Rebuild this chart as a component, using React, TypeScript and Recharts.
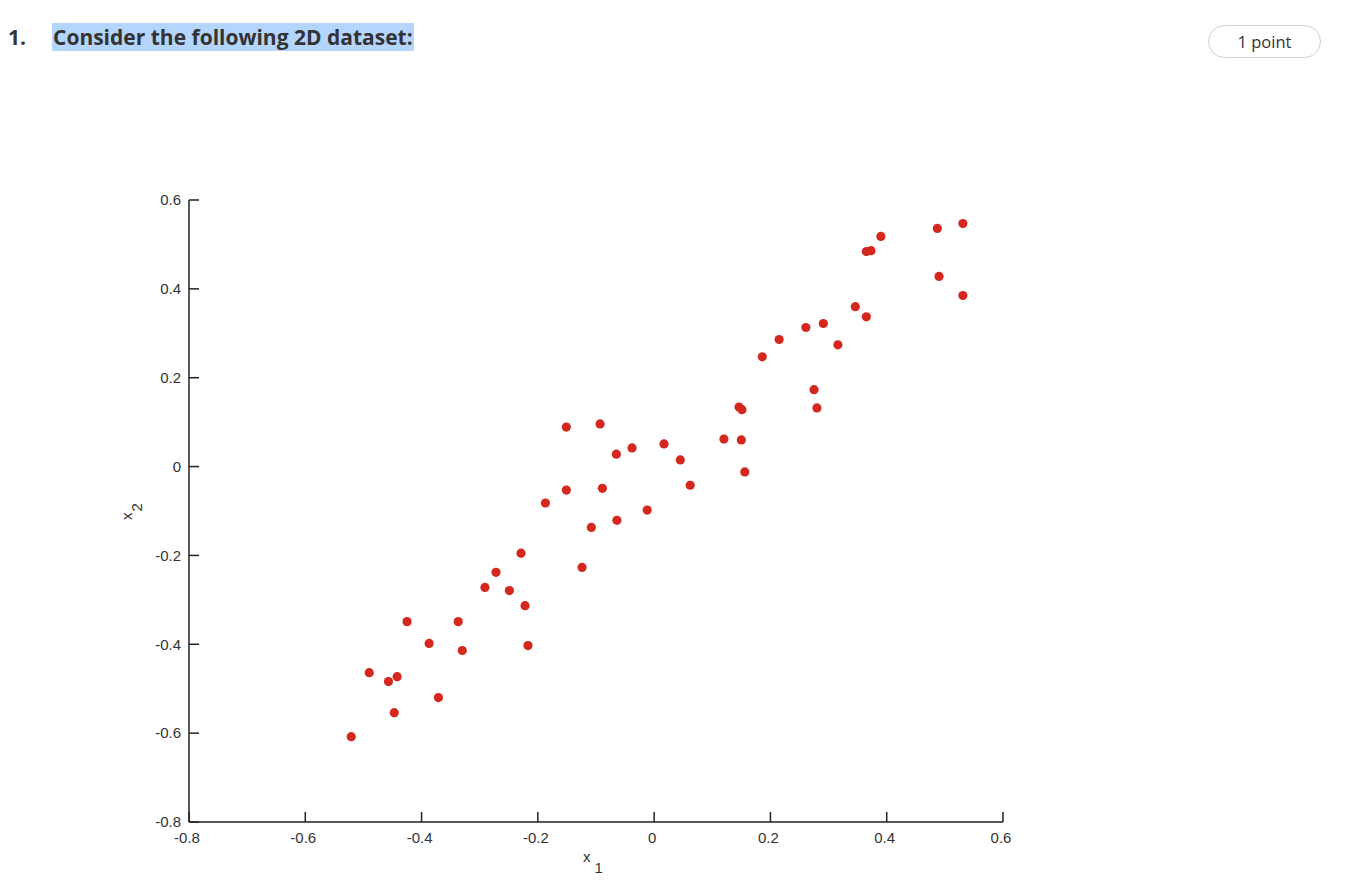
import React from 'react';
import { ScatterChart, Scatter, XAxis, YAxis, Label } from 'recharts';

const x1Values: number[] = [
  -0.521, -0.490, -0.457, -0.442, -0.447, -0.425, -0.387, -0.371, -0.337, -0.330,
  -0.291, -0.272, -0.249, -0.229, -0.222, -0.217, -0.187, -0.151, -0.151, -0.124,
  -0.108, -0.093, -0.089, -0.065, -0.064, -0.038, -0.012, 0.017, 0.045, 0.062,
  0.120, 0.146, 0.151, 0.150, 0.156, 0.186, 0.215, 0.261, 0.275, 0.280,
  0.291, 0.316, 0.346, 0.365, 0.365, 0.373, 0.390, 0.487, 0.490, 0.531, 0.531,
];
const x2Values: number[] = [
  -0.608, -0.464, -0.484, -0.473, -0.554, -0.349, -0.398, -0.520, -0.349, -0.414,
  -0.272, -0.238, -0.279, -0.195, -0.313, -0.403, -0.082, 0.089, -0.053, -0.227,
  -0.137, 0.096, -0.049, 0.028, -0.121, 0.042, -0.098, 0.051, 0.015, -0.042,
  0.062, 0.134, 0.128, 0.060, -0.012, 0.247, 0.286, 0.313, 0.173, 0.132,
  0.322, 0.274, 0.360, 0.337, 0.484, 0.486, 0.518, 0.536, 0.428, 0.547, 0.385,
];
const xTicks: number[] = [-0.8, -0.6, -0.4, -0.2, 0, 0.2, 0.4, 0.6];
const yTicks: number[] = [-0.8, -0.6, -0.4, -0.2, 0, 0.2, 0.4, 0.6];
const titleNumber = '1.';
const titleText = 'Consider the following 2D dataset:';
const pointsText = '1 point';

const data = x1Values.map((x, i) => ({ x1: x, x2: x2Values[i] }));

const fmt = (v: number) => (v === 0 ? '0' : String(v));

const tickStyle = { fontFamily: 'Arial, "Liberation Sans", sans-serif', fontSize: 15, fill: '#333' };

const Dot = (props: any) => {
  const { cx, cy } = props;
  if (cx == null || cy == null) return null;
  return <circle cx={cx} cy={cy} r={4.6} fill="#d4281f" />;
};

const XLabel = (props: any) => {
  const vb = props.viewBox || {};
  const cx = vb.x + vb.width / 2 - 13;
  const y = vb.y + 40;
  return (
    <text x={cx} y={y} style={tickStyle as any}>
      x<tspan dx={4} dy={11}>1</tspan>
    </text>
  );
};

const YLabel = (props: any) => {
  const vb = props.viewBox || {};
  const x = vb.x + vb.width - 57;
  const y = vb.y + vb.height / 2 + 9;
  return (
    <text x={x} y={y} transform={`rotate(-90 ${x} ${y})`} style={tickStyle as any}>
      x<tspan dx={1} dy={10}>2</tspan>
    </text>
  );
};

export default function App() {
  return (
    <div style={{ position: 'absolute', left: 0, top: 0, width: 1356, height: 888, background: '#fff', overflow: 'hidden' }}>
      <div
        style={{
          position: 'absolute', left: 8, top: 23, height: 28, lineHeight: '28px',
          fontFamily: '"Open Sans", sans-serif', fontWeight: 700, fontSize: 21, color: '#333',
        }}
      >
        {titleNumber}
      </div>
      <div
        style={{
          position: 'absolute', left: 52, top: 23, height: 28, lineHeight: '28px', paddingLeft: 1, paddingRight: 1,
          fontFamily: '"Open Sans", sans-serif', fontWeight: 700, fontSize: 21, color: '#333',
          background: '#b4d5fe', whiteSpace: 'nowrap',
        }}
      >
        {titleText}
      </div>
      <div
        style={{
          position: 'absolute', left: 1208, top: 25, width: 111, height: 31, border: '1px solid #d0d0d0',
          borderRadius: 17, textAlign: 'center', lineHeight: '31px',
          fontFamily: '"Open Sans", sans-serif', fontSize: 16.5, color: '#333',
        }}
      >
        {pointsText}
      </div>
      <div style={{ position: 'absolute', left: 0, top: 0 }}>
        <ScatterChart width={1356} height={888} margin={{ top: 200, right: 353, bottom: 6, left: 129 }}>
          <XAxis
            type="number"
            dataKey="x1"
            domain={[-0.8, 0.6]}
            ticks={xTicks}
            tickFormatter={fmt}
            height={60}
            tickSize={-10}
            tickMargin={20}
            tick={{ ...tickStyle, dx: -2 }}
            axisLine={{ stroke: '#222', strokeWidth: 1.5 }}
            tickLine={{ stroke: '#222', strokeWidth: 1.5 }}
            allowDataOverflow
            isAnimationActive={false}
          >
            <Label content={<XLabel />} />
          </XAxis>
          <YAxis
            type="number"
            dataKey="x2"
            domain={[-0.8, 0.6]}
            ticks={yTicks}
            tickFormatter={fmt}
            width={60}
            tickSize={-10}
            tickMargin={18}
            tick={tickStyle}
            axisLine={{ stroke: '#222', strokeWidth: 1.5 }}
            tickLine={{ stroke: '#222', strokeWidth: 1.5 }}
            allowDataOverflow
          >
            <Label content={<YLabel />} />
          </YAxis>
          <Scatter data={data} shape={<Dot />} isAnimationActive={false} />
        </ScatterChart>
      </div>
    </div>
  );
}
